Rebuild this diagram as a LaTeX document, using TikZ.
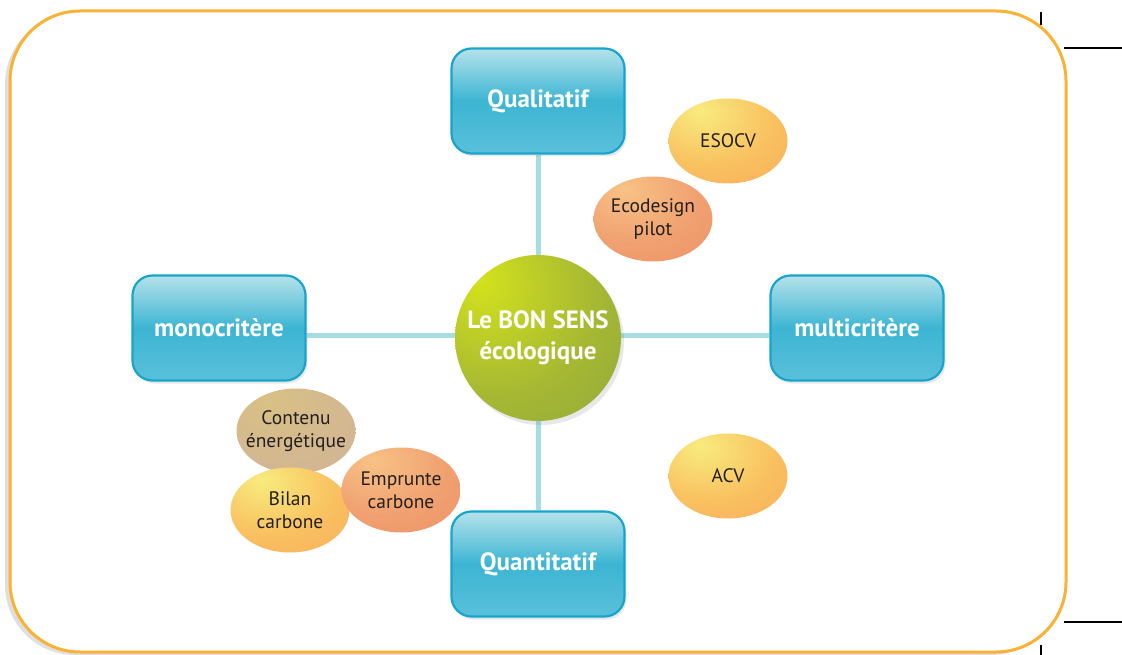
\documentclass[tikz,border=0pt]{standalone}
\usepackage{fontspec}
\setmainfont{PT Sans}
\usetikzlibrary{shadows,shapes.geometric}
\definecolor{frameor}{HTML}{F9B233}
\definecolor{linkc}{HTML}{A8DCE3}
\definecolor{boxtop}{HTML}{B5E2EA}
\definecolor{boxmid}{HTML}{3CB5D3}
\definecolor{boxbot}{HTML}{5AC0DA}
\definecolor{boxedge}{HTML}{17A5CB}
\definecolor{ballhi}{HTML}{D4E21C}
\definecolor{ballmid}{HTML}{A6B833}
\definecolor{balllo}{HTML}{8CA53E}
\definecolor{orhi}{HTML}{F8EC7E}
\definecolor{ormid}{HTML}{F9C060}
\definecolor{orlo}{HTML}{F8A95A}
\definecolor{salhi}{HTML}{F8C286}
\definecolor{salmid}{HTML}{F0A070}
\definecolor{sallo}{HTML}{EE9066}
\definecolor{tanhi}{HTML}{D8C184}
\definecolor{tanmid}{HTML}{D4B890}
\definecolor{tanlo}{HTML}{D0B498}
\definecolor{txtd}{HTML}{231F20}
\pgfdeclareradialshading{ballsh}{\pgfpoint{-18bp}{18bp}}{color(0bp)=(ballhi); color(30bp)=(ballmid); color(55bp)=(balllo); color(100bp)=(balllo)}
\pgfdeclareradialshading{orsh}{\pgfpoint{-12bp}{18bp}}{color(0bp)=(orhi); color(28bp)=(ormid); color(55bp)=(orlo); color(100bp)=(orlo)}
\pgfdeclareradialshading{salsh}{\pgfpoint{-12bp}{18bp}}{color(0bp)=(salhi); color(28bp)=(salmid); color(55bp)=(sallo); color(100bp)=(sallo)}
\pgfdeclareradialshading{tansh}{\pgfpoint{-12bp}{18bp}}{color(0bp)=(tanhi); color(28bp)=(tanmid); color(55bp)=(tanlo); color(100bp)=(tanlo)}
\pgfdeclarelayer{framelayer}
\pgfdeclarelayer{linklayer}
\pgfsetlayers{framelayer,linklayer,main}
\tikzset{
  catbox/.style={rectangle, rounded corners=20pt, minimum width=173pt, minimum height=105pt,
    draw=boxedge, line width=2.2pt, top color=boxtop, bottom color=boxbot, middle color=boxmid,
    text=white, font=\bfseries\fontsize{25}{30}\selectfont,
    drop shadow={shadow xshift=2pt, shadow yshift=-3pt, opacity=.18}},
  link/.style={draw=linkc, line width=5pt},
  bulle/.style={ellipse, minimum width=119pt, minimum height=85pt, inner xsep=-14pt, inner ysep=-8pt, align=center,
    text=txtd, font=\fontsize{19.5}{23}\selectfont},
  orb/.style={bulle, shading=orsh},
  salb/.style={bulle, shading=salsh},
  tanb/.style={bulle, shading=tansh},
  crop/.style={draw=black, line width=1.3pt}
}
\begin{document}
\begin{tikzpicture}[x=1pt,y=-1pt]
\useasboundingbox (0,0) rectangle (1122,655);
% frame
\begin{pgfonlayer}{framelayer}
\draw[frameor, line width=3pt, fill=white, rounded corners=70pt,
  drop shadow={shadow xshift=-5pt, shadow yshift=-3pt, opacity=.25}]
  (10,11) rectangle (1066,652);
\end{pgfonlayer}
% crop marks
\coordinate (c1a) at (1041,12); \coordinate (c1b) at (1041,25);
\coordinate (c2a) at (1064,48); \coordinate (c2b) at (1122,48);
\coordinate (c3a) at (1064,622); \coordinate (c3b) at (1122,622);
\coordinate (c4a) at (1041,645); \coordinate (c4b) at (1041,655);
\draw[crop] (c1a) -- (c1b);
\draw[crop] (c2a) -- (c2b);
\draw[crop] (c3a) -- (c3b);
\draw[crop] (c4a) -- (c4b);
% nodes
\node[circle, minimum size=166pt, shading=ballsh, text=white, align=center,
  font=\bfseries\fontsize{25}{31}\selectfont,
  drop shadow={shadow xshift=3pt, shadow yshift=-4pt, opacity=.18}] (centre) at (538,338) {Le BON SENS\\écologique};
\node[catbox] (qual) at (538,101) {Qualitatif};
\node[catbox] (quant) at (538,564) {Quantitatif};
\node[catbox] (mono) at (219,328) {monocritère};
\node[catbox] (multi) at (857,328) {multicritère};
% links
\begin{pgfonlayer}{linklayer}
\draw[link] (qual.south) -- (centre.north);
\draw[link] (centre.south) -- (quant.north);
\draw[link] (mono.east |- 0,335) -- (centre.west |- 0,335);
\draw[link] (centre.east |- 0,335) -- (multi.west |- 0,335);
\end{pgfonlayer}
% bubbles
\node[orb] (esocv) at (728,141) {ESOCV};
\node[salb] (eco) at (653,219) {Ecodesign\\pilot};
\node[orb] (acv) at (728,476) {ACV};
\node[tanb] (contenu) at (296,431) {Contenu\\énergétique};
\node[orb] (bilan) at (290,510) {Bilan\\carbone};
\node[salb] (empr) at (401,490) {Emprunte\\carbone};
\end{tikzpicture}
\end{document}
